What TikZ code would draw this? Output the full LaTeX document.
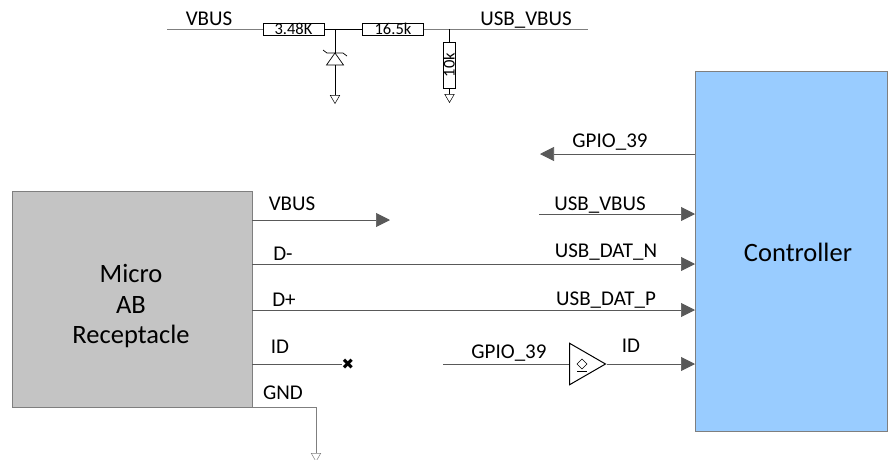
\documentclass[tikz,border=0pt]{standalone}
\usepackage{fontspec}
\usepackage{xcolor}
\setmainfont{Carlito}
\newfontfamily\symfont{DejaVu Sans}
\usetikzlibrary{arrows.meta,shapes.geometric}
\definecolor{boxgray}{HTML}{C4C4C4}
\definecolor{boxblue}{HTML}{99CCFF}
\definecolor{edgegray}{HTML}{7F7F7F}
\definecolor{wiregray}{HTML}{595959}
\tikzset{
	lbl/.style={inner sep=0pt, font=\fontsize{21}{22}\selectfont, text=black},
	biglbl/.style={inner sep=0pt, font=\fontsize{26.5}{28}\selectfont, text=black},
	reslbl/.style={draw=black, fill=white, inner sep=0pt, line width=0.6pt, font=\fontsize{16.5}{12}\selectfont, text=black},
	wire/.style={draw=wiregray, line width=0.7pt},
	sig/.style={wire, -{Triangle[length=14pt,width=14pt,color=wiregray]}},
	gndmark/.style={draw=black, fill=white, line width=0.5pt, regular polygon, regular polygon sides=3, shape border rotate=180, inner sep=0pt, minimum size=11pt}
}
\begin{document}
\begin{tikzpicture}[x=1pt,y=-1pt]
	\useasboundingbox (0,0) rectangle (888,459);
	% main blocks
	\node[draw=edgegray, fill=boxgray, line width=1pt, minimum width=240pt, minimum height=216pt, inner sep=0pt] at (132,299) (R) {};
	\node[draw=edgegray, fill=boxblue, line width=1pt, minimum width=192pt, minimum height=360pt, inner sep=0pt] at (791,251) (C) {};
	\node[biglbl] at (131,273) (Rmicro) {Micro};
	\node[biglbl] at (131,305) (Rab) {AB};
	\node[biglbl] at (131,336) (Rrec) {Receptacle};
	\node[biglbl] at (798,252) (Clbl) {Controller};

	% divider network
	\coordinate (Tl) at (167,29);
	\coordinate (Tr) at (588,29);
	\coordinate (J1) at (335,29);
	\coordinate (J2) at (449,29);
	\node[reslbl, minimum width=61pt, minimum height=12pt] at (293.5,29) (R1) {3.48K};
	\node[reslbl, minimum width=61pt, minimum height=12pt] at (393,29) (R2) {16.5k};
	\node[reslbl, rotate=90, minimum width=46pt, minimum height=12pt] at (449,65) (R3) {10k};
	\draw[wire, draw=edgegray] (Tl) -- (R1);
	\draw[wire, draw=black] (R1) -- (R2);
	\draw[wire, draw=edgegray] (R2) -- (Tr);
	\draw[wire, draw=black] (J2) -- (R3);
	\coordinate (Zk) at (335,53);
	\coordinate (Za) at (335,65);
	\node[gndmark, anchor=north] at (335,95) (G1) {};
	\node[gndmark, anchor=north] at (449.5,94) (G2) {};
	\draw[black, line width=0.7pt] (J1) -- (Zk);
	\draw[black, line width=0.7pt] (Za) -- (G1.north);
	\draw[black, line width=0.7pt] (R3) -- (G2.north);
	\draw[black, line width=0.7pt] (323,50) -- (327,53) -- (343,53) -- (347,56);
	\draw[black, line width=0.7pt] (335,53) -- (326.5,65) -- (343.5,65) -- cycle;

	% receptacle side
	\coordinate (Vend) at (390,220);
	\coordinate (Rv) at (252,220);
	\coordinate (Rd) at (252,264);
	\coordinate (Rp) at (252,310);
	\coordinate (Ri) at (252,364);
	\coordinate (Rg) at (252,407);
	\coordinate (Gc) at (316,407);
	\coordinate (Cd) at (695,264);
	\coordinate (Cp) at (695,310);
	\draw[sig] (Rv) -- (Vend);
	\draw[sig] (Rd) -- (Cd);
	\draw[sig] (Rp) -- (Cp);
	\node[inner sep=0pt, font=\symfont\fontsize{15}{15}\selectfont] at (348,364) (X) {✖};
	\draw[wire] (Ri) -- (X);
	\node[gndmark, draw=edgegray, anchor=north] at (316,453) (G3) {};
	\draw[edgegray, line width=0.9pt] (Rg) -- (Gc) -- (G3.north);

	% controller side
	\coordinate (Cg) at (695,154);
	\coordinate (Ge) at (540,154);
	\coordinate (Us) at (539,214);
	\coordinate (Cu) at (695,214);
	\coordinate (Gs) at (443,364);
	\coordinate (Ci) at (695,364);
	\draw[sig] (Cg) -- (Ge);
	\draw[sig] (Us) -- (Cu);
	\node[draw=black, fill=white, line width=1pt, regular polygon, regular polygon sides=3, shape border rotate=-90, inner sep=0pt, minimum size=48pt, anchor=center] at (581.5,364) (B) {};
	\draw[wire] (Gs) -- (B.west |- Gs);
	\draw[sig] (B.corner 1 |- Ci) -- (Ci);
	\draw[black, line width=0.5pt] (582,359) -- (587,364) -- (582,369) -- (577,364) -- cycle;
	\draw[black, line width=0.5pt] (577,371) -- (587,371);

	% labels
	\node[lbl] at (209,19) (L1) {VBUS};
	\node[lbl] at (526,20) (L2) {USB\_VBUS};
	\node[lbl] at (610,142) (L3) {GPIO\_39};
	\node[lbl] at (292,204) (L4) {VBUS};
	\node[lbl] at (600,205) (L5) {USB\_VBUS};
	\node[lbl] at (283,254) (L6) {D-};
	\node[lbl] at (606,252) (L7) {USB\_DAT\_N};
	\node[lbl] at (284,300) (L8) {D+};
	\node[lbl] at (606,300) (L9) {USB\_DAT\_P};
	\node[lbl] at (280,347) (L10) {ID};
	\node[lbl] at (283,393) (L11) {GND};
	\node[lbl] at (509,353) (L12) {GPIO\_39};
	\node[lbl] at (631,346) (L13) {ID};
\end{tikzpicture}
\end{document}
